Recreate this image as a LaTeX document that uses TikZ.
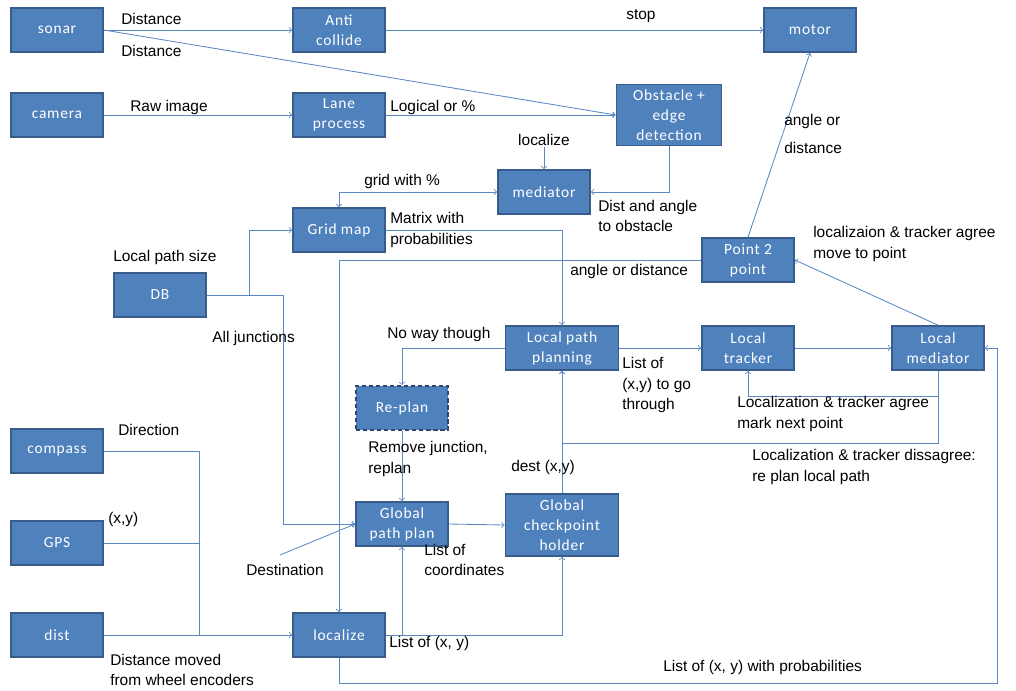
\documentclass[tikz,border=0pt]{standalone}
\usepackage{fontspec}
\setmainfont{Liberation Sans}
\newfontfamily\boxfont{Carlito}[LetterSpace=5]
\usepackage{xcolor}
\usepackage{tikz}

\definecolor{boxblue}{HTML}{4F81BD}
\definecolor{boxedge}{HTML}{385D8A}
\definecolor{linkblue}{HTML}{5A88C2}

\begin{document}
\begin{tikzpicture}[x=0.025cm, y=-0.025cm,
    every node/.style={font=\fontsize{11}{14.5}\selectfont},
    box/.style={draw=boxedge, line width=1.2pt, fill=boxblue, text=white,
        font=\boxfont\fontsize{11}{14.2}\selectfont, align=center,
        minimum width=2.3cm, minimum height=1.1cm, inner sep=1pt},
    widebox/.style={box, minimum width=2.83cm},
    tallbox/.style={widebox, minimum height=1.55cm},
    dashbox/.style={box, draw=boxedge!80!black, densely dashed, line width=1.4pt},
    lbl/.style={anchor=west, align=left, inner sep=0pt},
    link/.style={draw=linkblue, line width=0.6pt, ->},
    wire/.style={draw=linkblue, line width=0.6pt}]

    \useasboundingbox (0,0) rectangle (1016,690);

    % Sensors
    \node[box] (sonar)   at (57,30)  {sonar};
    \node[box] (camera)  at (57,115) {camera};
    \node[box] (compass) at (57,451) {compass};
    \node[box] (gps)     at (57,543) {GPS};
    \node[box] (dist)    at (57,635) {dist};
    \node[box] (db)      at (160,295) {DB};

    % Processing blocks
    \node[box] (anti)  at (339,30)  {Anti\\collide};
    \node[box] (lane)  at (339,115) {Lane\\process};
    \node[box] (motor) at (810,30)  {motor};
    \node[box, minimum width=2.63cm, minimum height=1.53cm] (obst) at (669,115) {Obstacle +\\edge\\detection};
    \node[box] (med)   at (544,192) {mediator};
    \node[box] (grid)  at (339,230) {Grid map};
    \node[box] (p2p)   at (748,260) {Point 2\\point};
    \node[widebox] (lpp)  at (562,348) {Local path\\planning};
    \node[box] (ltr)   at (748,348) {Local\\tracker};
    \node[box] (lmed)  at (938,348) {Local\\mediator};
    \node[dashbox] (replan) at (402,408) {Re-plan};
    \node[box] (gpp)   at (402,524) {Global\\path plan};
    \node[tallbox] (gch) at (562,525) {Global\\checkpoint\\holder};
    \node[box] (loc)   at (339,635) {localize};

    % Top row
    \draw[link] (sonar.east) -- (anti.west);
    \draw[link] (sonar.east) -- (obst.west);
    \draw[link] (camera.east) -- (lane.west);
    \draw[link] (lane.east) -- (obst.west);
    \draw[link] (anti.east) -- (motor.west);
    \draw[link] (obst.south) |- (med.east);
    \node[anchor=south, inner sep=1pt] (medloc) at (544,147) {localize};
    \draw[link] (medloc.south) -- (med.north);
    \draw[link, <->] (grid.north) |- (med.west);
    \draw[link] (grid.east) -| (lpp.north);

    % DB feeds
    \draw[link] (db.east) -- (249,295) |- (grid.west);
    \draw[link] (db.east) -- (283,295) |- (gpp.west);
    \coordinate (destin) at (280,555);
    \draw[link] (destin) -- (gpp.west);

    % Point 2 point
    \draw[link] (p2p.west) -| (loc.north);
    \draw[link] (p2p.north) -- (motor.south);
    \draw[link] (lmed.north) -- (p2p.east);

    % Local loop
    \draw[link] (lpp.east) -- (ltr.west);
    \draw[link] (ltr.east) -- (lmed.west);
    \draw[link] (lmed.south) -- (938,396) -| (ltr.south);
    \draw[link] (lmed.south) -- (938,443) -| (lpp.south);
    \draw[link] (gch.north) -- (lpp.south);
    \draw[link] (lpp.west) -| (replan.north);
    \draw[link] (replan.south) -- (gpp.north);
    \draw[link] (gpp.east) -- (gch.west);
    \draw[link] (loc.east) -| (gpp.south);
    \draw[link] (loc.east) -| (gch.south);

    % Sensors to localize
    \draw[wire] (compass.east) -| (199,635);
    \draw[wire] (gps.east) -- (199,543);
    \draw[link] (dist.east) -- (loc.west);
    \draw[link] (loc.south) |- (997,683) |- (lmed.east);

    % Labels
    \node[lbl] (l1)  at (121,19)  {Distance};
    \node[lbl] (l2)  at (121,51)  {Distance};
    \node[lbl] (l3)  at (130,108) {Raw image};
    \node[lbl] (l4)  at (390,108) {Logical or \%};
    \node[lbl] (l5)  at (626,16)  {stop};
    \node[lbl] (l6)  at (364,181) {grid with \%};
    \node[lbl] (l7)  at (598,216) {Dist and angle\\to obstacle};
    \node[lbl] (l8)  at (390,230) {Matrix with\\probabilities};
    \node[lbl] (l9)  at (784,134) {angle or\\[6pt]distance};
    \node[lbl] (l10) at (813,244) {localizaion \& tracker agree\\move to point};
    \node[lbl] (l11) at (570,271) {angle or distance};
    \node[lbl] (l12) at (113,257) {Local path size};
    \node[lbl] (l13) at (212,338) {All junctions};
    \node[lbl] (l14) at (387,334) {No way though};
    \node[lbl] (l15) at (622,385) {List of\\(x,y) to go\\through};
    \node[lbl] (l16) at (737,414) {Localization \& tracker agree\\mark next point};
    \node[lbl] (l17) at (368,459) {Remove junction,\\replan};
    \node[lbl] (l18) at (511,467) {dest (x,y)};
    \node[lbl] (l19) at (752,467) {Localization \& tracker dissagree:\\re plan local path};
    \node[lbl] (l20) at (118,430) {Direction};
    \node[lbl] (l21) at (108,519) {(x,y)};
    \node[lbl] (l22) at (246,570) {Destination};
    \node[lbl] (l23) at (424,560) {List of\\coordinates};
    \node[lbl] (l24) at (389,643) {List of (x, y)};
    \node[lbl] (l25) at (110,670) {Distance moved\\from wheel encoders};
    \node[lbl] (l26) at (663,667) {List of (x, y) with probabilities};
\end{tikzpicture}
\end{document}
